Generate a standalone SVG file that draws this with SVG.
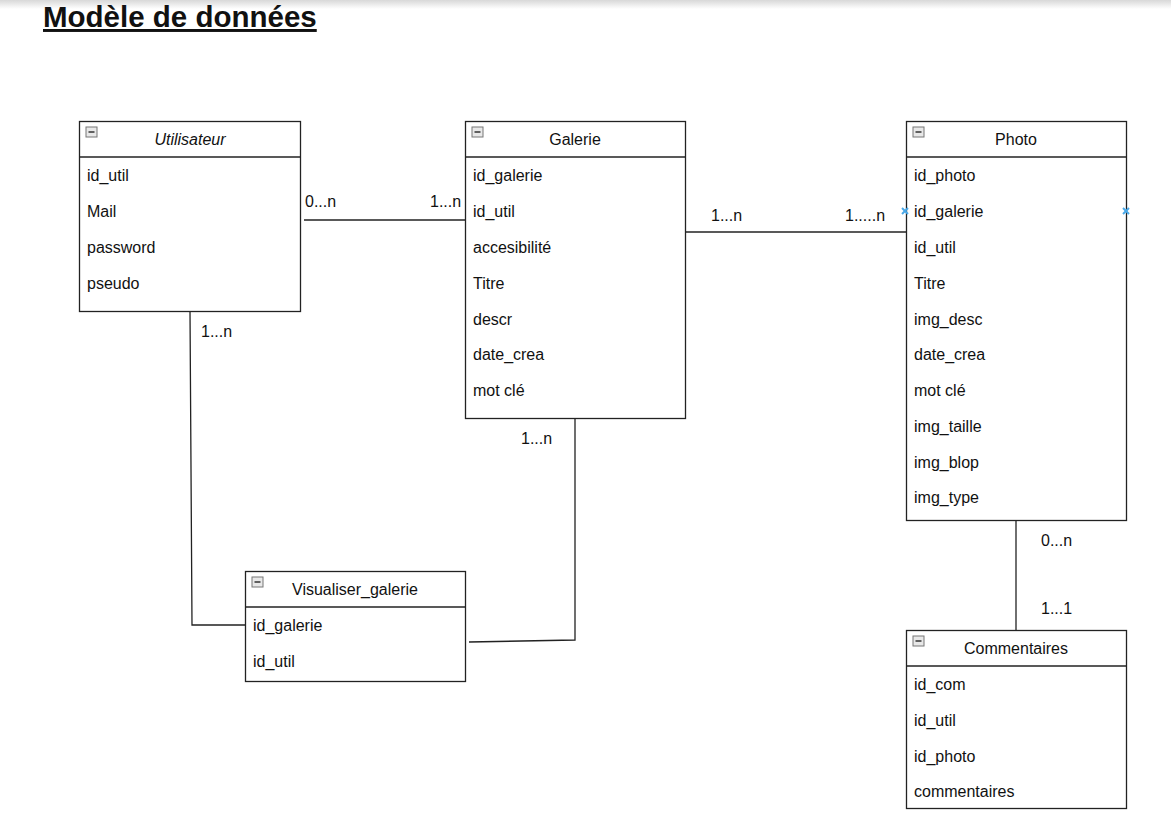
<svg xmlns="http://www.w3.org/2000/svg" width="1171" height="820" viewBox="0 0 1171 820">
<defs>
<linearGradient id="topshade" x1="0" y1="0" x2="0" y2="1">
<stop offset="0" stop-color="#d8d8d8"/>
<stop offset="1" stop-color="#ffffff"/>
</linearGradient>
<g id="minus">
<rect x="0" y="0" width="11" height="10" fill="#e8e8e8" stroke="#777" stroke-width="1"/>
<line x1="2.5" y1="5" x2="8.5" y2="5" stroke="#333" stroke-width="1.5"/>
</g>
</defs>
<style>
text{font-family:"Liberation Sans",Arial,sans-serif;font-size:16px;fill:#111}
.title{font-size:29.5px;font-weight:bold;text-decoration:underline}
.hd{text-anchor:middle}
.it{font-style:italic}
.box{fill:#fff;stroke:#222;stroke-width:1.3}
.sep{stroke:#222;stroke-width:1.3}
.conn{fill:none;stroke:#222;stroke-width:1.3}
.mk{stroke:#4aa8e8;stroke-width:2}
</style>
<rect x="0" y="0" width="1171" height="820" fill="#fff"/>
<rect x="0" y="0" width="1171" height="9" fill="url(#topshade)"/>
<text class="title" x="43" y="27">Modèle de données</text>

<g id="connectors">
<polyline class="conn" points="304,220 465,220"/>
<polyline class="conn" points="685,232 906,232"/>
<polyline class="conn" points="190,311 192,625 245,625"/>
<polyline class="conn" points="575,413 575,640 469,642"/>
<polyline class="conn" points="1016,520 1016,630"/>
<text x="305" y="207">0...n</text>
<text x="430" y="207">1...n</text>
<text x="711" y="221">1...n</text>
<text x="845" y="221">1.....n</text>
<text x="201" y="337">1...n</text>
<text x="521" y="444">1...n</text>
<text x="1041" y="546">0...n</text>
<text x="1041" y="614">1...1</text>
</g>

<g id="utilisateur">
<rect class="box" x="79.5" y="121.5" width="221" height="190"/>
<line class="sep" x1="79.5" y1="157" x2="300.5" y2="157"/>
<use href="#minus" x="86" y="127"/>
<text class="hd it" x="190" y="145">Utilisateur</text>
<text x="87" y="181">id_util</text>
<text x="87" y="217">Mail</text>
<text x="87" y="253">password</text>
<text x="87" y="289">pseudo</text>
</g>

<g id="galerie">
<rect class="box" x="465.5" y="121.5" width="220" height="297"/>
<line class="sep" x1="465.5" y1="157" x2="685.5" y2="157"/>
<use href="#minus" x="472" y="127"/>
<text class="hd" x="575" y="145">Galerie</text>
<text x="473" y="181">id_galerie</text>
<text x="473" y="217">id_util</text>
<text x="473" y="253">accesibilité</text>
<text x="473" y="289">Titre</text>
<text x="473" y="325">descr</text>
<text x="473" y="360">date_crea</text>
<text x="473" y="396">mot clé</text>
</g>

<g id="photo">
<rect class="box" x="906.5" y="121.5" width="220" height="399"/>
<line class="sep" x1="906.5" y1="157" x2="1126.5" y2="157"/>
<use href="#minus" x="913" y="127"/>
<text class="hd" x="1016" y="145">Photo</text>
<text x="914" y="181">id_photo</text>
<text x="914" y="217">id_galerie</text>
<text x="914" y="253">id_util</text>
<text x="914" y="289">Titre</text>
<text x="914" y="325">img_desc</text>
<text x="914" y="360">date_crea</text>
<text x="914" y="396">mot clé</text>
<text x="914" y="432">img_taille</text>
<text x="914" y="468">img_blop</text>
<text x="914" y="503">img_type</text>
<g class="mk">
<line x1="902" y1="208" x2="908" y2="214"/><line x1="908" y1="208" x2="902" y2="214"/>
<line x1="1123" y1="208" x2="1129" y2="214"/><line x1="1129" y1="208" x2="1123" y2="214"/>
</g>
</g>

<g id="visualiser_galerie">
<rect class="box" x="245.5" y="571.5" width="220" height="110"/>
<line class="sep" x1="245.5" y1="607" x2="465.5" y2="607"/>
<use href="#minus" x="252" y="577"/>
<text class="hd" x="355" y="595">Visualiser_galerie</text>
<text x="253" y="631">id_galerie</text>
<text x="253" y="667">id_util</text>
</g>

<g id="commentaires">
<rect class="box" x="906.5" y="630.5" width="220" height="178"/>
<line class="sep" x1="906.5" y1="666" x2="1126.5" y2="666"/>
<use href="#minus" x="913" y="636"/>
<text class="hd" x="1016" y="654">Commentaires</text>
<text x="914" y="690">id_com</text>
<text x="914" y="726">id_util</text>
<text x="914" y="762">id_photo</text>
<text x="914" y="797">commentaires</text>
</g>
</svg>
